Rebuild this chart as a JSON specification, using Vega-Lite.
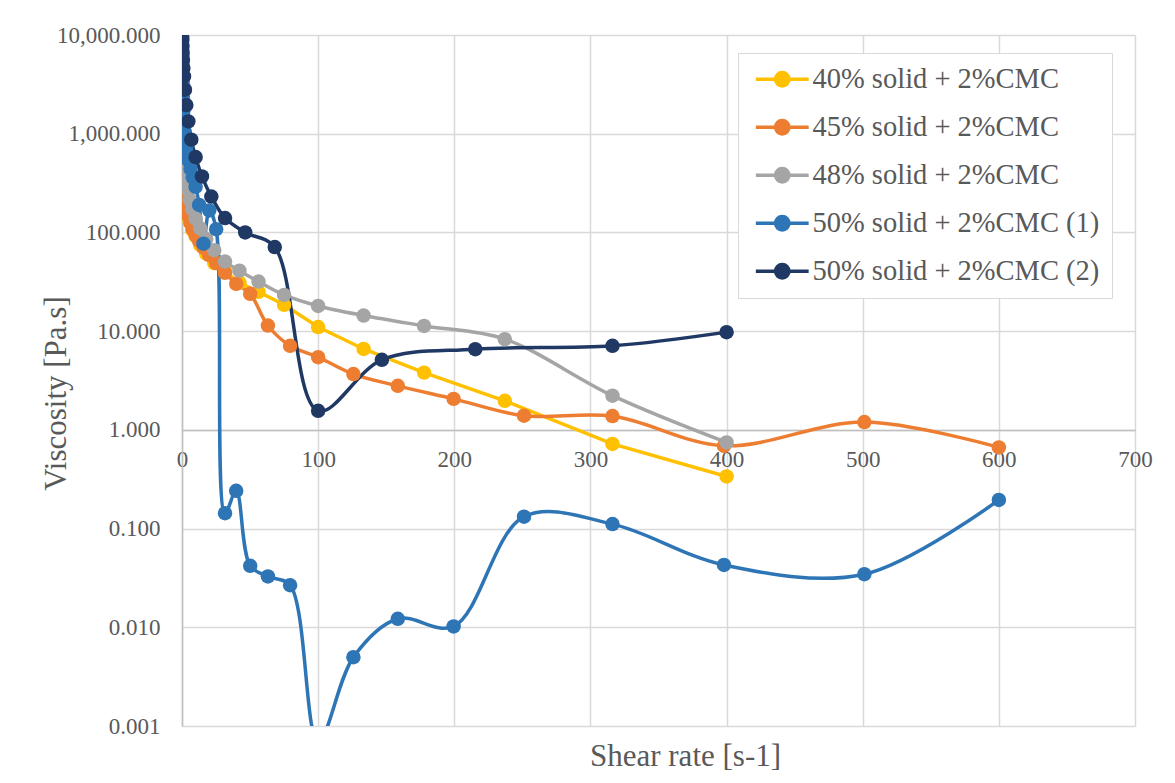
{
  "$schema": "https://vega.github.io/schema/vega-lite/v6.json",
  "width": 953,
  "height": 691,
  "autosize": {"type": "none"},
  "padding": {"left": 182, "top": 35, "right": 40, "bottom": 57},
  "background": "white",
  "config": {
    "font": "Liberation Serif",
    "view": {"stroke": null},
    "axis": {
      "labelFont": "Liberation Serif", "labelFontSize": 23, "labelColor": "#595959",
      "titleFont": "Liberation Serif", "titleFontSize": 31, "titleColor": "#595959", "titleFontWeight": "normal",
      "gridColor": "#D9D9D9", "gridWidth": 1.5, "domainColor": "#BFBFBF", "domainWidth": 1.5, "ticks": false
    }
  },
  "data": {"values": [
    {"s": "40% solid + 2%CMC", "x": 0.1, "y": 2370},
    {"s": "40% solid + 2%CMC", "x": 0.133, "y": 1840},
    {"s": "40% solid + 2%CMC", "x": 0.178, "y": 1420},
    {"s": "40% solid + 2%CMC", "x": 0.237, "y": 1100},
    {"s": "40% solid + 2%CMC", "x": 0.316, "y": 850},
    {"s": "40% solid + 2%CMC", "x": 0.422, "y": 660},
    {"s": "40% solid + 2%CMC", "x": 0.562, "y": 510},
    {"s": "40% solid + 2%CMC", "x": 0.75, "y": 400},
    {"s": "40% solid + 2%CMC", "x": 1, "y": 306},
    {"s": "40% solid + 2%CMC", "x": 1.33, "y": 235},
    {"s": "40% solid + 2%CMC", "x": 1.78, "y": 213},
    {"s": "40% solid + 2%CMC", "x": 2.37, "y": 190},
    {"s": "40% solid + 2%CMC", "x": 3.16, "y": 169},
    {"s": "40% solid + 2%CMC", "x": 4.22, "y": 147},
    {"s": "40% solid + 2%CMC", "x": 5.62, "y": 128},
    {"s": "40% solid + 2%CMC", "x": 7.5, "y": 106},
    {"s": "40% solid + 2%CMC", "x": 10, "y": 92},
    {"s": "40% solid + 2%CMC", "x": 13.3, "y": 75},
    {"s": "40% solid + 2%CMC", "x": 17.8, "y": 61},
    {"s": "40% solid + 2%CMC", "x": 23.7, "y": 49},
    {"s": "40% solid + 2%CMC", "x": 31.6, "y": 40},
    {"s": "40% solid + 2%CMC", "x": 42.2, "y": 31},
    {"s": "40% solid + 2%CMC", "x": 56.2, "y": 25},
    {"s": "40% solid + 2%CMC", "x": 75, "y": 18.5},
    {"s": "40% solid + 2%CMC", "x": 100, "y": 11},
    {"s": "40% solid + 2%CMC", "x": 133.4, "y": 6.6},
    {"s": "40% solid + 2%CMC", "x": 177.8, "y": 3.8},
    {"s": "40% solid + 2%CMC", "x": 237.1, "y": 1.97},
    {"s": "40% solid + 2%CMC", "x": 316.2, "y": 0.72},
    {"s": "40% solid + 2%CMC", "x": 400, "y": 0.337},

    {"s": "45% solid + 2%CMC", "x": 0.1, "y": 9800},
    {"s": "45% solid + 2%CMC", "x": 0.126, "y": 6800},
    {"s": "45% solid + 2%CMC", "x": 0.158, "y": 4800},
    {"s": "45% solid + 2%CMC", "x": 0.2, "y": 3400},
    {"s": "45% solid + 2%CMC", "x": 0.251, "y": 2500},
    {"s": "45% solid + 2%CMC", "x": 0.316, "y": 1850},
    {"s": "45% solid + 2%CMC", "x": 0.398, "y": 1400},
    {"s": "45% solid + 2%CMC", "x": 0.501, "y": 1080},
    {"s": "45% solid + 2%CMC", "x": 0.631, "y": 840},
    {"s": "45% solid + 2%CMC", "x": 0.794, "y": 660},
    {"s": "45% solid + 2%CMC", "x": 1, "y": 530},
    {"s": "45% solid + 2%CMC", "x": 1.26, "y": 430},
    {"s": "45% solid + 2%CMC", "x": 1.58, "y": 350},
    {"s": "45% solid + 2%CMC", "x": 2, "y": 290},
    {"s": "45% solid + 2%CMC", "x": 2.51, "y": 240},
    {"s": "45% solid + 2%CMC", "x": 3.16, "y": 200},
    {"s": "45% solid + 2%CMC", "x": 3.98, "y": 170},
    {"s": "45% solid + 2%CMC", "x": 5.01, "y": 145},
    {"s": "45% solid + 2%CMC", "x": 6.31, "y": 125},
    {"s": "45% solid + 2%CMC", "x": 7.94, "y": 108},
    {"s": "45% solid + 2%CMC", "x": 10, "y": 94},
    {"s": "45% solid + 2%CMC", "x": 12.6, "y": 82},
    {"s": "45% solid + 2%CMC", "x": 15.8, "y": 70},
    {"s": "45% solid + 2%CMC", "x": 20, "y": 59},
    {"s": "45% solid + 2%CMC", "x": 25.1, "y": 49},
    {"s": "45% solid + 2%CMC", "x": 31.6, "y": 39},
    {"s": "45% solid + 2%CMC", "x": 39.8, "y": 30.2},
    {"s": "45% solid + 2%CMC", "x": 50.1, "y": 23.9},
    {"s": "45% solid + 2%CMC", "x": 63.1, "y": 11.4},
    {"s": "45% solid + 2%CMC", "x": 79.4, "y": 7.1},
    {"s": "45% solid + 2%CMC", "x": 100, "y": 5.45},
    {"s": "45% solid + 2%CMC", "x": 125.9, "y": 3.67},
    {"s": "45% solid + 2%CMC", "x": 158.5, "y": 2.79},
    {"s": "45% solid + 2%CMC", "x": 199.5, "y": 2.06},
    {"s": "45% solid + 2%CMC", "x": 251.2, "y": 1.39},
    {"s": "45% solid + 2%CMC", "x": 316.2, "y": 1.38},
    {"s": "45% solid + 2%CMC", "x": 398.1, "y": 0.69},
    {"s": "45% solid + 2%CMC", "x": 501.2, "y": 1.2},
    {"s": "45% solid + 2%CMC", "x": 600, "y": 0.664},

    {"s": "48% solid + 2%CMC", "x": 0.1, "y": 5000},
    {"s": "48% solid + 2%CMC", "x": 0.133, "y": 4000},
    {"s": "48% solid + 2%CMC", "x": 0.178, "y": 3200},
    {"s": "48% solid + 2%CMC", "x": 0.237, "y": 2600},
    {"s": "48% solid + 2%CMC", "x": 0.316, "y": 2100},
    {"s": "48% solid + 2%CMC", "x": 0.422, "y": 1700},
    {"s": "48% solid + 2%CMC", "x": 0.562, "y": 1350},
    {"s": "48% solid + 2%CMC", "x": 0.75, "y": 1080},
    {"s": "48% solid + 2%CMC", "x": 1, "y": 860},
    {"s": "48% solid + 2%CMC", "x": 1.33, "y": 680},
    {"s": "48% solid + 2%CMC", "x": 1.78, "y": 540},
    {"s": "48% solid + 2%CMC", "x": 2.37, "y": 430},
    {"s": "48% solid + 2%CMC", "x": 3.16, "y": 340},
    {"s": "48% solid + 2%CMC", "x": 4.22, "y": 270},
    {"s": "48% solid + 2%CMC", "x": 5.62, "y": 215},
    {"s": "48% solid + 2%CMC", "x": 7.5, "y": 172},
    {"s": "48% solid + 2%CMC", "x": 10, "y": 138},
    {"s": "48% solid + 2%CMC", "x": 13.3, "y": 110},
    {"s": "48% solid + 2%CMC", "x": 17.8, "y": 86},
    {"s": "48% solid + 2%CMC", "x": 23.7, "y": 66},
    {"s": "48% solid + 2%CMC", "x": 31.6, "y": 50.7},
    {"s": "48% solid + 2%CMC", "x": 42.2, "y": 41},
    {"s": "48% solid + 2%CMC", "x": 56.2, "y": 31.8},
    {"s": "48% solid + 2%CMC", "x": 75, "y": 23.3},
    {"s": "48% solid + 2%CMC", "x": 100, "y": 18},
    {"s": "48% solid + 2%CMC", "x": 133.4, "y": 14.4},
    {"s": "48% solid + 2%CMC", "x": 177.8, "y": 11.3},
    {"s": "48% solid + 2%CMC", "x": 237.1, "y": 8.3},
    {"s": "48% solid + 2%CMC", "x": 316.2, "y": 2.22},
    {"s": "48% solid + 2%CMC", "x": 400, "y": 0.745},

    {"s": "50% solid + 2%CMC (1)", "x": 0.1, "y": 8000},
    {"s": "50% solid + 2%CMC (1)", "x": 0.126, "y": 7000},
    {"s": "50% solid + 2%CMC (1)", "x": 0.158, "y": 6100},
    {"s": "50% solid + 2%CMC (1)", "x": 0.2, "y": 5300},
    {"s": "50% solid + 2%CMC (1)", "x": 0.251, "y": 4600},
    {"s": "50% solid + 2%CMC (1)", "x": 0.316, "y": 3900},
    {"s": "50% solid + 2%CMC (1)", "x": 0.398, "y": 3300},
    {"s": "50% solid + 2%CMC (1)", "x": 0.501, "y": 2800},
    {"s": "50% solid + 2%CMC (1)", "x": 0.631, "y": 2350},
    {"s": "50% solid + 2%CMC (1)", "x": 0.794, "y": 2000},
    {"s": "50% solid + 2%CMC (1)", "x": 1, "y": 1700},
    {"s": "50% solid + 2%CMC (1)", "x": 1.26, "y": 1450},
    {"s": "50% solid + 2%CMC (1)", "x": 1.58, "y": 1230},
    {"s": "50% solid + 2%CMC (1)", "x": 2, "y": 1040},
    {"s": "50% solid + 2%CMC (1)", "x": 2.51, "y": 880},
    {"s": "50% solid + 2%CMC (1)", "x": 3.16, "y": 750},
    {"s": "50% solid + 2%CMC (1)", "x": 3.98, "y": 630},
    {"s": "50% solid + 2%CMC (1)", "x": 5.01, "y": 530},
    {"s": "50% solid + 2%CMC (1)", "x": 6.31, "y": 440},
    {"s": "50% solid + 2%CMC (1)", "x": 7.94, "y": 360},
    {"s": "50% solid + 2%CMC (1)", "x": 10, "y": 290},
    {"s": "50% solid + 2%CMC (1)", "x": 12.6, "y": 190},
    {"s": "50% solid + 2%CMC (1)", "x": 15.8, "y": 77},
    {"s": "50% solid + 2%CMC (1)", "x": 20, "y": 167},
    {"s": "50% solid + 2%CMC (1)", "x": 25.1, "y": 108},
    {"s": "50% solid + 2%CMC (1)", "x": 31.6, "y": 0.143},
    {"s": "50% solid + 2%CMC (1)", "x": 39.8, "y": 0.241},
    {"s": "50% solid + 2%CMC (1)", "x": 50.1, "y": 0.0419},
    {"s": "50% solid + 2%CMC (1)", "x": 63.1, "y": 0.0327},
    {"s": "50% solid + 2%CMC (1)", "x": 79.4, "y": 0.0267},
    {"s": "50% solid + 2%CMC (1)", "x": 100, "y": 0.0007},
    {"s": "50% solid + 2%CMC (1)", "x": 125.9, "y": 0.00498},
    {"s": "50% solid + 2%CMC (1)", "x": 158.5, "y": 0.0122},
    {"s": "50% solid + 2%CMC (1)", "x": 199.5, "y": 0.0102},
    {"s": "50% solid + 2%CMC (1)", "x": 251.2, "y": 0.132},
    {"s": "50% solid + 2%CMC (1)", "x": 316.2, "y": 0.111},
    {"s": "50% solid + 2%CMC (1)", "x": 398.1, "y": 0.0428},
    {"s": "50% solid + 2%CMC (1)", "x": 501.2, "y": 0.0345},
    {"s": "50% solid + 2%CMC (1)", "x": 600, "y": 0.195},

    {"s": "50% solid + 2%CMC (2)", "x": 0.147, "y": 9300},
    {"s": "50% solid + 2%CMC (2)", "x": 0.215, "y": 8900},
    {"s": "50% solid + 2%CMC (2)", "x": 0.316, "y": 7640},
    {"s": "50% solid + 2%CMC (2)", "x": 0.464, "y": 6560},
    {"s": "50% solid + 2%CMC (2)", "x": 0.681, "y": 5610},
    {"s": "50% solid + 2%CMC (2)", "x": 1, "y": 4620},
    {"s": "50% solid + 2%CMC (2)", "x": 1.468, "y": 3800},
    {"s": "50% solid + 2%CMC (2)", "x": 2.154, "y": 2790},
    {"s": "50% solid + 2%CMC (2)", "x": 3.162, "y": 1950},
    {"s": "50% solid + 2%CMC (2)", "x": 4.642, "y": 1330},
    {"s": "50% solid + 2%CMC (2)", "x": 6.813, "y": 869},
    {"s": "50% solid + 2%CMC (2)", "x": 10, "y": 580},
    {"s": "50% solid + 2%CMC (2)", "x": 14.68, "y": 369},
    {"s": "50% solid + 2%CMC (2)", "x": 21.54, "y": 231},
    {"s": "50% solid + 2%CMC (2)", "x": 31.62, "y": 140},
    {"s": "50% solid + 2%CMC (2)", "x": 46.42, "y": 100},
    {"s": "50% solid + 2%CMC (2)", "x": 68.13, "y": 71},
    {"s": "50% solid + 2%CMC (2)", "x": 100, "y": 1.56},
    {"s": "50% solid + 2%CMC (2)", "x": 146.8, "y": 5.12},
    {"s": "50% solid + 2%CMC (2)", "x": 215.4, "y": 6.57},
    {"s": "50% solid + 2%CMC (2)", "x": 316.2, "y": 7.1},
    {"s": "50% solid + 2%CMC (2)", "x": 400, "y": 9.77}
  ]},
  "encoding": {
    "x": {
      "field": "x", "type": "quantitative",
      "scale": {"domain": [0, 700], "nice": false, "zero": false},
      "axis": {
        "values": [0, 100, 200, 300, 400, 500, 600, 700],
        "offset": -296, "labelPadding": 18, "grid": true, "labelFlush": false,
        "title": "Shear rate [s-1]", "titleX": 503, "titleY": 335,
        "titleBaseline": "alphabetic", "titleAlign": "center"
      }
    },
    "y": {
      "field": "y", "type": "quantitative",
      "scale": {"type": "log", "domain": [0.001, 10000], "nice": false},
      "axis": {
        "values": [0.001, 0.01, 0.1, 1, 10, 100, 1000, 10000],
        "format": ",.3f", "labelPadding": 22, "grid": true, "labelFlush": false,
        "title": "Viscosity [Pa.s]", "titleX": -117, "titleY": 358, "titleAngle": -90,
        "titleBaseline": "alphabetic", "titleAlign": "center"
      }
    },
    "color": {
      "field": "s", "type": "nominal",
      "scale": {
        "domain": ["40% solid + 2%CMC", "45% solid + 2%CMC", "48% solid + 2%CMC", "50% solid + 2%CMC (1)", "50% solid + 2%CMC (2)"],
        "range": ["#FFC000", "#ED7D31", "#A5A5A5", "#2E75B6", "#203864"]
      },
      "legend": {
        "orient": "none", "legendX": 556, "legendY": 18, "title": null,
        "labelFont": "Liberation Serif", "labelFontSize": 28.5, "labelColor": "#595959", "labelLimit": 600,
        "symbolType": "M-2.64,0L2.64,0M0.67,0A0.67,0.67,0,1,1,-0.67,0A0.67,0.67,0,1,1,0.67,0Z",
        "symbolSize": 400, "symbolStrokeWidth": 3.5, "symbolOffset": 18, "labelOffset": 16,
        "strokeColor": "#D9D9D9", "fillColor": "white", "padding": 12, "rowPadding": 19,
        "encode": {
          "symbols": {"update": {"fill": {"scale": "color", "field": "value"}, "stroke": {"scale": "color", "field": "value"}, "opacity": {"value": 1}}}
        }
      }
    }
  },
  "layer": [
    {
      "transform": [{"filter": "datum.s == '40% solid + 2%CMC'"}],
      "mark": {"type": "line", "strokeWidth": 3.5, "clip": true, "interpolate": "linear"}
    },
    {
      "transform": [{"filter": "datum.s != '40% solid + 2%CMC'"}],
      "mark": {"type": "line", "strokeWidth": 3.5, "clip": true, "interpolate": "catmull-rom"}
    },
    {
      "mark": {"type": "point", "filled": true, "size": 210, "opacity": 1, "clip": true}
    }
  ]
}
